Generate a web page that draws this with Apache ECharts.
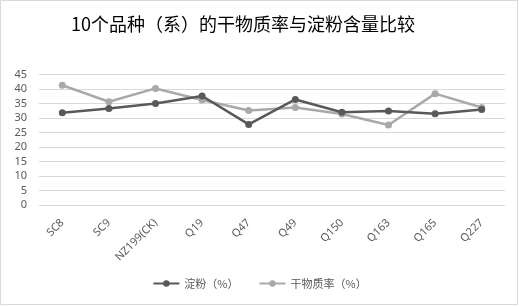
<!DOCTYPE html>
<html>
<head>
<meta charset="utf-8">
<script src="https://cdn.jsdelivr.net/npm/echarts@6/dist/echarts.min.js"></script>
<style>
  html, body { margin: 0; padding: 0; background: #fff; }
  #main { width: 519px; height: 306px; }
</style>
</head>
<body>
<div id="main"></div>
<script>
// 品种（系）
var categories = ['SC8', 'SC9', 'NZ199(CK)', 'Q19', 'Q47', 'Q49', 'Q150', 'Q163', 'Q165', 'Q227'];
// 淀粉（%）
var starch = [31.8, 33.3, 35.0, 37.6, 27.8, 36.4, 32.0, 32.4, 31.5, 32.9];
// 干物质率（%）
var dryMatter = [41.3, 35.6, 40.2, 36.2, 32.6, 33.6, 31.4, 27.6, 38.4, 33.6];

var chart = echarts.init(document.getElementById('main'));

var labelFont = '"Noto Sans", "Noto Sans CJK SC", sans-serif';
var cjkFont = '"Noto Sans CJK SC", sans-serif';

chart.setOption({
  animation: false,
  backgroundColor: '#fff',
  graphic: [{
    type: 'rect',
    shape: { x: 0.5, y: 0.5, width: 517, height: 304 },
    style: { fill: 'none', stroke: '#d9d9d9', lineWidth: 1 },
    silent: true
  }],
  title: {
    text: '10个品种（系）的干物质率与淀粉含量比较',
    left: 66,
    top: 10,
    textStyle: {
      fontFamily: cjkFont,
      fontSize: 18,
      fontWeight: 'normal',
      color: '#000'
    }
  },
  legend: {
    bottom: 12,
    left: 'center',
    itemWidth: 26,
    itemHeight: 8,
    itemGap: 20,
    textStyle: { fontFamily: cjkFont, fontSize: 11, color: '#595959' },
    data: ['淀粉（%）', '干物质率（%）']
  },
  grid: {
    left: 39,
    right: 14,
    top: 74.5,
    bottom: 101,
    containLabel: false
  },
  xAxis: {
    type: 'category',
    data: categories,
    boundaryGap: true,
    axisLine: { show: false },
    axisTick: { show: false },
    axisLabel: {
      rotate: 45,
      interval: 0,
      margin: 16,
      fontFamily: labelFont,
      fontSize: 11,
      color: '#595959'
    }
  },
  yAxis: {
    type: 'value',
    min: 0,
    max: 45,
    interval: 5,
    axisLine: { show: false },
    axisTick: { show: false },
    splitLine: { lineStyle: { color: '#d9d9d9', width: 1 } },
    axisLabel: {
      margin: 12,
      fontFamily: labelFont,
      fontSize: 11,
      color: '#595959'
    }
  },
  series: [
    {
      name: '淀粉（%）',
      type: 'line',
      data: starch,
      symbol: 'circle',
      symbolSize: 7,
      lineStyle: { color: '#595959', width: 2.5 },
      itemStyle: { color: '#595959' },
      z: 3
    },
    {
      name: '干物质率（%）',
      type: 'line',
      data: dryMatter,
      symbol: 'circle',
      symbolSize: 7,
      lineStyle: { color: '#a9a9a9', width: 2.5 },
      itemStyle: { color: '#a9a9a9' },
      z: 2
    }
  ]
});
</script>
</body>
</html>
